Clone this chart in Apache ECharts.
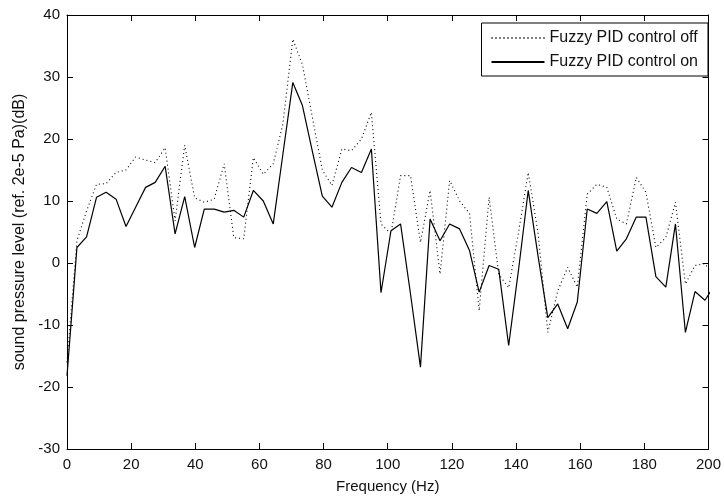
<!DOCTYPE html>
<html>
<head>
<meta charset="utf-8">
<script src="https://cdn.jsdelivr.net/npm/echarts@6/dist/echarts.min.js"></script>
<style>
html,body{margin:0;padding:0;background:#fff;}
#c{width:724px;height:501px;}
</style>
</head>
<body>
<div id="c"></div>
<script>
// Frequency (Hz) of each sample
const freq = [0, 3.1, 6.1, 9.2, 12.2, 15.3, 18.4, 21.4, 24.5, 27.5, 30.6, 33.7, 36.7, 39.8, 42.8, 45.9, 49.0, 52.0, 55.1, 58.1,
  61.2, 64.3, 67.3, 70.4, 73.4, 76.5, 79.6, 82.6, 85.7, 88.7, 91.8, 94.9, 97.9, 101.0, 104.0, 107.1, 110.2, 113.2, 116.3, 119.3,
  122.4, 125.5, 128.5, 131.6, 134.6, 137.7, 140.8, 143.8, 146.9, 149.9, 153.0, 156.1, 159.1, 162.2, 165.2, 168.3, 171.4, 174.4,
  177.5, 180.5, 183.6, 186.7, 189.7, 192.8, 195.8, 198.9, 202.0];
// Fuzzy PID control off (dotted)
const offValues = [-16, 3.6, 8.4, 12.7, 12.8, 14.6, 15.0, 17.1, 16.6, 16.2, 18.6, 6.8, 19.0, 10.5, 9.8, 10.3, 16.0, 4.1, 3.9, 17.0,
  14.3, 16.0, 22.4, 36.1, 32.0, 23.5, 15.0, 12.5, 18.4, 18.1, 20.0, 24.3, 6.3, 4.7, 14.1, 14.1, 3.3, 11.7, -1.8, 13.3,
  10.0, 8.0, -7.7, 10.6, -1.8, -4.0, 5.0, 14.6, 4.7, -11.2, -4.5, -0.7, -3.9, 11.1, 12.7, 12.2, 7.1, 6.3,
  13.8, 11.4, 2.5, 4.1, 9.8, -3.4, -0.4, -0.1, -2.5];
// Fuzzy PID control on (solid)
const onValues = [-18.2, 2.5, 4.2, 10.6, 11.4, 10.3, 5.9, 9.0, 12.2, 13.0, 15.6, 4.7, 10.7, 2.5, 8.7, 8.7, 8.2, 8.5, 7.4, 11.7,
  10.0, 6.3, 17.5, 29.1, 25.4, 18.0, 10.8, 9.0, 13.0, 15.4, 14.6, 18.4, -4.8, 5.2, 6.3, -5.0, -16.8, 7.1, 3.6, 6.3,
  5.5, 2.0, -4.7, -0.4, -1.0, -13.3, -1.0, 11.7, 1.0, -8.8, -6.6, -10.6, -6.3, 8.7, 8.0, 9.9, 1.9, 3.9,
  7.4, 7.4, -2.2, -3.9, 6.3, -11.2, -4.6, -6.0, -3.5];
const seriesNames = ['Fuzzy PID control off', 'Fuzzy PID control on'];
const xTicks = {min: 0, max: 200, step: 20};
const yTicks = {min: -30, max: 40, step: 10};

const FONT = 'Liberation Sans, Arial, sans-serif';
const chart = echarts.init(document.getElementById('c'), null, {renderer: 'canvas'});
const pair = (xs, ys) => xs.map((x, i) => [x, ys[i]]);
const axisCommon = {
  axisLine: {show: true, onZero: false, lineStyle: {color: '#000', width: 1}},
  axisTick: {show: true, inside: true, length: 6, lineStyle: {color: '#000', width: 1}},
  splitLine: {show: false}
};
chart.setOption({
  animation: false,
  backgroundColor: '#fff',
  grid: {left: 67, right: 14, top: 15, bottom: 52, containLabel: false},
  legend: {
    orient: 'vertical', right: 16, top: 23,
    data: seriesNames,
    itemWidth: 53, itemHeight: 16, itemGap: 8,
    padding: [7, 10, 6, 9],
    borderColor: '#000', borderWidth: 1, backgroundColor: '#fff',
    itemStyle: {opacity: 0},
    textStyle: {fontFamily: FONT, fontSize: 16, color: '#111'}
  },
  xAxis: [
    Object.assign({}, axisCommon, {
      type: 'value', position: 'bottom', min: xTicks.min, max: xTicks.max, interval: xTicks.step,
      name: 'Frequency (Hz)', nameLocation: 'middle', nameGap: 30,
      nameTextStyle: {fontFamily: FONT, fontSize: 15, color: '#111'},
      axisLabel: {fontFamily: FONT, fontSize: 15, color: '#111', margin: 8}
    }),
    Object.assign({}, axisCommon, {
      type: 'value', position: 'top', min: xTicks.min, max: xTicks.max, interval: xTicks.step,
      axisLabel: {show: false}
    })
  ],
  yAxis: [
    Object.assign({}, axisCommon, {
      type: 'value', position: 'left', min: yTicks.min, max: yTicks.max, interval: yTicks.step,
      name: 'sound pressure level (ref. 2e-5 Pa)(dB)', nameLocation: 'middle', nameGap: 39,
      nameTextStyle: {fontFamily: FONT, fontSize: 16, color: '#111'},
      axisLabel: {fontFamily: FONT, fontSize: 15, color: '#111', margin: 7}
    }),
    Object.assign({}, axisCommon, {
      type: 'value', position: 'right', min: yTicks.min, max: yTicks.max, interval: yTicks.step,
      axisLabel: {show: false}
    })
  ],
  series: [
    {
      name: seriesNames[0], type: 'line', data: pair(freq, offValues),
      showSymbol: false, symbol: 'none', clip: true,
      itemStyle: {color: '#000'},
      lineStyle: {color: '#000', width: 1.1, type: [1, 3]}
    },
    {
      name: seriesNames[1], type: 'line', data: pair(freq, onValues),
      showSymbol: false, symbol: 'none', clip: true,
      itemStyle: {color: '#000'},
      lineStyle: {color: '#000', width: 1.2, type: 'solid'}
    }
  ]
});
</script>
</body>
</html>
